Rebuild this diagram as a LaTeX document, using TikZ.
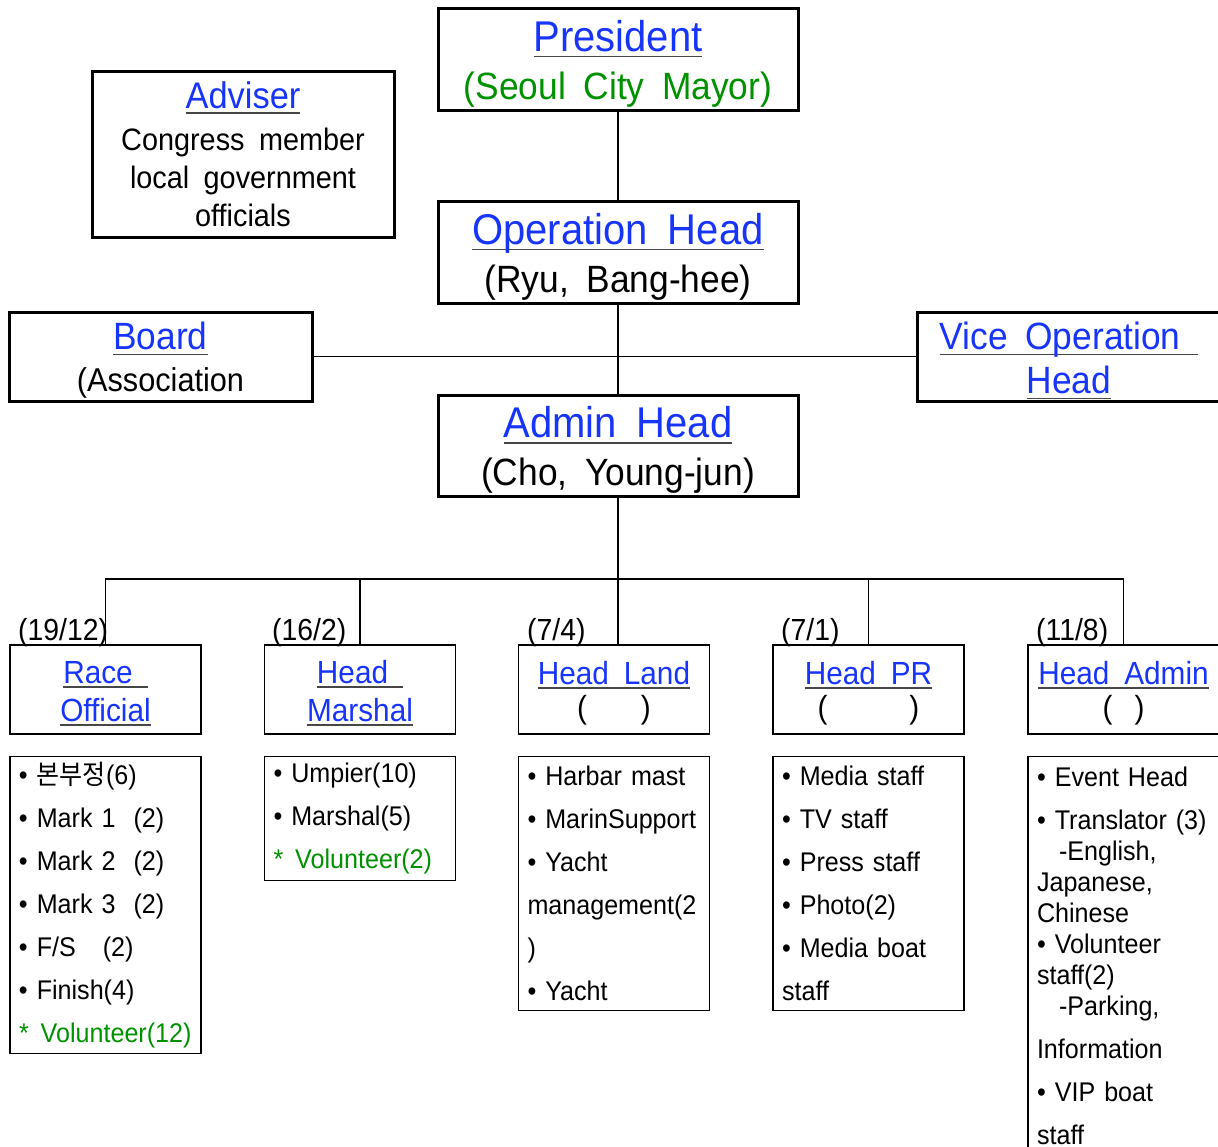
\documentclass[tikz,border=0pt]{standalone}
\usepackage{fontspec}
\setmainfont{Liberation Sans}[FakeStretch=0.93,WordSpace=1.8]
\newfontfamily\kr{Noto Sans CJK KR}[FakeStretch=0.93]
\usepackage{tikz}
\usetikzlibrary{calc}
\definecolor{hdblue}{RGB}{23,52,250}
\definecolor{hdgreen}{RGB}{0,145,0}
\definecolor{ulgray}{RGB}{70,70,70}
% underlined blue heading
\newcommand\hdline[1]{\setbox0\hbox{#1}\leavevmode\rlap{\textcolor{ulgray}{\rule[-0.14em]{\wd0}{1.4pt}}}\rule{0pt}{0.94em}\box0}
\newcommand\hd[1]{\hdline{\textcolor{hdblue}{#1}}}
\newcommand\subln[1]{{\fontsize{38}{48}\selectfont #1}}
\newcommand\nohyph{\hyphenpenalty=10000\relax}
\tikzset{
  bigbox/.style={draw,line width=3pt,align=center,inner sep=0pt},
  subbox/.style={draw,line width=1.2pt,align=center,inner sep=0pt,
    minimum width=191,minimum height=89,font=\fontsize{32}{38}\selectfont},
  listbox/.style={draw,line width=1.2pt,anchor=north,align=left,text width=173pt,
    inner xsep=9pt,inner ysep=0pt,font=\fontsize{27}{43}\selectfont\nohyph},
  cnt/.style={anchor=base west,inner sep=0pt,font=\fontsize{30.5}{31}\selectfont},
  wire/.style={line width=1.5pt}
}
\begin{document}
\begin{tikzpicture}[x=1pt,y=-1pt]
\useasboundingbox (0,0) rectangle (1218,1146);
%top boxes
\node[bigbox,minimum width=360,minimum height=102,font=\fontsize{43}{48}\selectfont] (pres) at (618,59)
  {\hd{President}\\\subln{\textcolor{hdgreen}{(Seoul City Mayor)}}};
\node[bigbox,minimum width=302,minimum height=166,font=\fontsize{31}{38}\selectfont] (adv) at (243,154)
  {{\fontsize{37}{38}\selectfont\hd{Adviser}}\\[4pt]Congress member\\local government\\officials\rule[-8pt]{0pt}{1pt}};
\node[bigbox,minimum width=360,minimum height=102,font=\fontsize{43}{48}\selectfont] (op) at (618,252)
  {\hd{Operation Head}\\\subln{(Ryu, Bang-hee)}};
\node[bigbox,minimum width=303,minimum height=89,font=\fontsize{38}{42}\selectfont] (board) at (160.5,356.5)
  {\hd{Board}\\{\fontsize{33}{42}\selectfont(Association}};
\node[bigbox,minimum width=304,minimum height=89,font=\fontsize{38}{44}\selectfont] (vice) at (1069,356.5)
  {\hd{Vice Operation\ }\\\hd{Head}};
\node[bigbox,minimum width=360,minimum height=101,font=\fontsize{43}{48}\selectfont] (admin) at (618,445.5)
  {\hd{Admin Head}\\\subln{(Cho, Young-jun)}};
%team heads
\node[subbox] (race) at (105.5,689.5) {\hd{Race\ }\\\hd{Official}};
\node[subbox] (marshal) at (360,689.5) {\hd{Head\ }\\\hd{Marshal}};
\node[subbox] (land) at (614,689.5) {\hd{Head Land}\\[-4pt](\hspace{54pt})};
\node[subbox] (pr) at (868.5,689.5) {\hd{Head PR}\\[-4pt](\hspace{82pt})};
\node[subbox] (hadm) at (1123.5,689.5) {\hd{Head Admin}\\[-4pt](\hspace{22pt})};
%counts
\node[cnt] (c1) at (18,640) {(19/12)};
\node[cnt] (c2) at (272,640) {(16/2)};
\node[cnt] (c3) at (527,640) {(7/4)};
\node[cnt] (c4) at (781,640) {(7/1)};
\node[cnt] (c5) at (1036,640) {(11/8)};
%lists
\node[listbox,minimum height=297] (l1) at (105.5,756)
  {\textbullet~{\kr 본부정}(6)\\\textbullet~Mark~1~~(2)\\\textbullet~Mark~2~~(2)\\\textbullet~Mark~3~~(2)\\
   \textbullet~F/S~~~(2)\\\textbullet~Finish(4)\\\textcolor{hdgreen}{*~\hspace{3pt}Volunteer(12)}};
\node[listbox,minimum height=124] (l2) at (360,756)
  {\textbullet~Umpier(10)\\\textbullet~Marshal(5)\\\textcolor{hdgreen}{*~\hspace{3pt}Volunteer(2)}};
\node[listbox,minimum height=254] (l3) at (614,756)
  {\textbullet~Harbar~mast\\\textbullet~MarinSupport\\\textbullet~Yacht\\management(2\\)\\\textbullet~Yacht};
\node[listbox,minimum height=254] (l4) at (868.5,756)
  {\textbullet~Media~staff\\\textbullet~TV~staff\\\textbullet~Press~staff\\\textbullet~Photo(2)\\
   \textbullet~Media~boat\\staff};
\node[listbox,minimum height=398,font=\fontsize{27}{31}\selectfont\nohyph] (l5) at (1123.5,756)
  {\textbullet~Event~Head\\[12pt]\textbullet~Translator~(3)\\\hspace*{22pt}-English,\\Japanese,\\Chinese\\
   \textbullet~Volunteer\\staff(2)\\\hspace*{22pt}-Parking,\\[12pt]Information\\[12pt]\textbullet~VIP~boat\\[12pt]staff};
%lines
\coordinate (bus) at (617,579);
\draw[wire] (pres) -- (op);
\draw[wire] (op) -- (admin);
\draw[wire] (board) -- (vice);
\draw[wire] (admin.south) -- (admin.south |- land.north);
\draw[wire] (race.north) |- (bus) -| (hadm.north);
\draw[wire] (marshal.north) -- (marshal.north |- bus);
\draw[wire] (pr.north) -- (pr.north |- bus);
\end{tikzpicture}
\end{document}
